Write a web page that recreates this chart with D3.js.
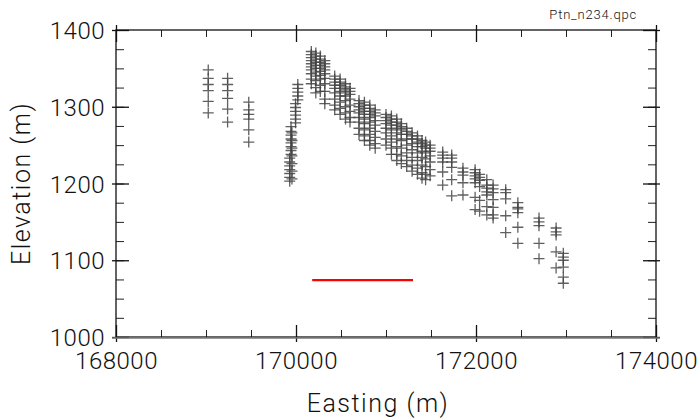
<!DOCTYPE html>
<html>
<head>
<meta charset="utf-8">
<script src="https://cdn.jsdelivr.net/npm/d3@7"></script>
<style>
body { margin: 0; background: #fff; }
svg { display: block; }
text { font-family: 'Roboto', 'DejaVu Sans', sans-serif; font-weight: 300; fill: #111; }
</style>
</head>
<body>
<svg id="main"></svg>
<script>
// survey columns: [easting, [elevations...]]
var westLines = [
	[169025, [1348, 1337, 1329, 1321, 1307, 1292]],
	[169240, [1337, 1329, 1321, 1311, 1297, 1280]],
	[169475, [1306, 1296, 1290, 1284, 1270, 1254]]
];
var riseLines = [
	[169930, [1203, 1208, 1213, 1218, 1223, 1228, 1233]],
	[169955, [1206, 1216, 1226, 1236, 1246, 1256, 1266]],
	[169945, [1238, 1243, 1248, 1253, 1258, 1263, 1268, 1274]],
	[169995, [1279, 1284, 1289, 1294, 1299, 1304]],
	[170020, [1309, 1314, 1319, 1324, 1329]]
];
var peakLines = [
	[170170, [1372, 1368, 1364, 1360, 1356, 1352, 1348, 1343, 1336, 1330]],
	[170220, [1370, 1366, 1362, 1358, 1354, 1350, 1345, 1340, 1334, 1325, 1318]],
	[170270, [1366, 1362, 1358, 1354, 1350, 1346, 1341, 1336, 1328, 1320]],
	[170320, [1360, 1356, 1352, 1348, 1343, 1337, 1330, 1320, 1310, 1304]],
	[170430, [1340, 1336, 1332, 1328, 1324, 1318, 1310, 1302, 1296]],
	[170490, [1336, 1332, 1328, 1324, 1320, 1314, 1306, 1298, 1290]],
	[170550, [1330, 1326, 1322, 1318, 1314, 1308, 1300, 1292, 1284]],
	[170600, [1324, 1320, 1316, 1310, 1302, 1294, 1286, 1280]],
	[170700, [1308, 1304, 1300, 1296, 1292, 1286, 1280, 1272, 1264]],
	[170760, [1306, 1302, 1298, 1294, 1290, 1284, 1278, 1270, 1262, 1256]],
	[170820, [1302, 1298, 1294, 1290, 1286, 1280, 1272, 1264, 1256, 1250]],
	[170880, [1296, 1292, 1288, 1282, 1276, 1268, 1260, 1252, 1246]]
];
var midLines = [
	[171000, [1290, 1286, 1282, 1278, 1272, 1266, 1258, 1250]],
	[171060, [1288, 1284, 1280, 1276, 1270, 1262, 1254, 1246, 1238]],
	[171120, [1284, 1280, 1276, 1272, 1266, 1258, 1248, 1238, 1230]],
	[171170, [1278, 1274, 1270, 1264, 1256, 1246, 1236, 1226]],
	[171230, [1272, 1268, 1264, 1258, 1250, 1240, 1230, 1222]],
	[171290, [1266, 1262, 1258, 1252, 1244, 1234, 1224, 1216]],
	[171350, [1262, 1258, 1254, 1248, 1240, 1230, 1220, 1212]],
	[171400, [1256, 1252, 1248, 1242, 1234, 1224, 1214, 1207]],
	[171440, [1254, 1250, 1246, 1240, 1232, 1222, 1212, 1205]],
	[171490, [1250, 1246, 1242, 1236, 1228, 1218, 1210]]
];
var eastLines = [
	[171630, [1241, 1237, 1233, 1228, 1215, 1198]],
	[171730, [1237, 1233, 1228, 1221, 1205, 1184]],
	[171855, [1220, 1215, 1211, 1201, 1185]],
	[171990, [1218, 1214, 1210, 1206, 1201, 1182, 1166]],
	[172040, [1212, 1208, 1204, 1196, 1178, 1164]],
	[172120, [1205, 1198, 1194, 1189, 1185, 1170, 1159]],
	[172190, [1198, 1193, 1188, 1179, 1169, 1159, 1155]],
	[172330, [1192, 1188, 1180, 1158, 1136]],
	[172465, [1175, 1169, 1167, 1162, 1143, 1122]],
	[172700, [1155, 1150, 1145, 1122, 1102]],
	[172890, [1142, 1137, 1133, 1111, 1090]],
	[172970, [1109, 1104, 1100, 1091, 1078, 1070]]
];
var redLine = [[170180, 1074], [171300, 1074]];
var xMajor = [168000, 170000, 172000, 174000];
var yMajor = [1000, 1100, 1200, 1300, 1400];

var width = 697, height = 418;
var m = {left: 116, right: 41, top: 30, bottom: 81};
var svg = d3.select('#main').attr('width', width).attr('height', height);

var x = d3.scaleLinear().domain([168000, 174000]).range([m.left, width - m.right]);
var y = d3.scaleLinear().domain([1000, 1400]).range([height - m.bottom, m.top]);

var points = [].concat(westLines, riseLines, peakLines, midLines, eastLines)
	.flatMap(([e, zs]) => zs.map(z => [e, z]));

// minor ticks first
var xMinor = d3.range(168000, 174001, 500);
var yMinor = d3.range(1000, 1401, 25);
var fx = () => '';
function minor(axis, g) { g.call(axis); g.select('.domain').remove(); g.selectAll('line').attr('stroke', '#222'); }
minor(d3.axisBottom(x).tickValues(xMinor).tickSize(-7).tickFormat(fx), svg.append('g').attr('transform', `translate(0,${y(1000)})`));
minor(d3.axisTop(x).tickValues(xMinor).tickSize(-7).tickFormat(fx), svg.append('g').attr('transform', `translate(0,${y(1400)})`));
minor(d3.axisLeft(y).tickValues(yMinor).tickSize(-8).tickFormat(fx), svg.append('g').attr('transform', `translate(${x(168000)},0)`));
minor(d3.axisRight(y).tickValues(yMinor).tickSize(-8).tickFormat(fx), svg.append('g').attr('transform', `translate(${x(174000)},0)`));

// major ticks, poking out a little
var gb = svg.append('g').attr('transform', `translate(0,${y(1000)})`)
	.call(d3.axisBottom(x).tickValues(xMajor).tickSize(-12).tickPadding(15).tickFormat(d3.format('d')));
gb.selectAll('line').attr('y1', 5);
var gt = svg.append('g').attr('transform', `translate(0,${y(1400)})`)
	.call(d3.axisTop(x).tickValues(xMajor).tickSize(-12).tickFormat(fx));
gt.selectAll('line').attr('y1', -5);
var gl = svg.append('g').attr('transform', `translate(${x(168000)},0)`)
	.call(d3.axisLeft(y).tickValues(yMajor).tickSize(-13).tickPadding(11).tickFormat(d3.format('d')));
gl.selectAll('line').attr('x1', -4);
var gr = svg.append('g').attr('transform', `translate(${x(174000)},0)`)
	.call(d3.axisRight(y).tickValues(yMajor).tickSize(-13).tickFormat(fx));
gr.selectAll('line').attr('x1', 4);
[gb, gt, gl, gr].forEach(g => {
	g.select('.domain').remove();
	g.selectAll('line').attr('stroke', '#111').attr('stroke-width', 1.3);
	g.selectAll('text').attr('font-size', 24).attr('fill', '#111').attr('letter-spacing', 0.5);
});
gl.selectAll('text').attr('dy', '0.36em');

// frame
svg.append('rect')
	.attr('x', x(168000)).attr('y', y(1400))
	.attr('width', x(174000) - x(168000)).attr('height', y(1000) - y(1400))
	.attr('fill', 'none').attr('stroke', '#111').attr('stroke-width', 1.3);
svg.append('line')
	.attr('x1', x(168000) - 4).attr('x2', x(174000) + 4)
	.attr('y1', y(1000) + 1).attr('y2', y(1000) + 1)
	.attr('stroke', '#777').attr('stroke-width', 1.5);

// plus markers
svg.append('g').selectAll('path').data(points).join('path')
	.attr('transform', d => `translate(${x(d[0])},${y(d[1])})`)
	.attr('d', 'M-5.5,0H5.5M0,-5.5V5.5')
	.attr('stroke', '#444').attr('stroke-width', 1.3).attr('stroke-opacity', 0.85)
	.attr('fill', 'none');

svg.append('path')
	.datum(redLine)
	.attr('d', d3.line().x(d => x(d[0])).y(d => y(d[1])))
	.attr('stroke', '#f00').attr('stroke-width', 2.2).attr('fill', 'none');

// labels
svg.append('text')
	.attr('x', (x(168000) + x(174000)) / 2 - 8).attr('y', 412)
	.attr('text-anchor', 'middle').attr('font-size', 25)
	.attr('letter-spacing', 1.5)
	.text('Easting (m)');
svg.append('text')
	.attr('transform', `translate(30,${(y(1000) + y(1400)) / 2}) rotate(-90)`)
	.attr('text-anchor', 'middle').attr('font-size', 25)
	.attr('letter-spacing', 1.5)
	.text('Elevation (m)');
svg.append('text')
	.attr('x', 637).attr('y', 19)
	.attr('text-anchor', 'end').attr('font-size', 13)
	.attr('letter-spacing', 0.8)
	.text('Ptn_n234.qpc');
</script>
</body>
</html>
